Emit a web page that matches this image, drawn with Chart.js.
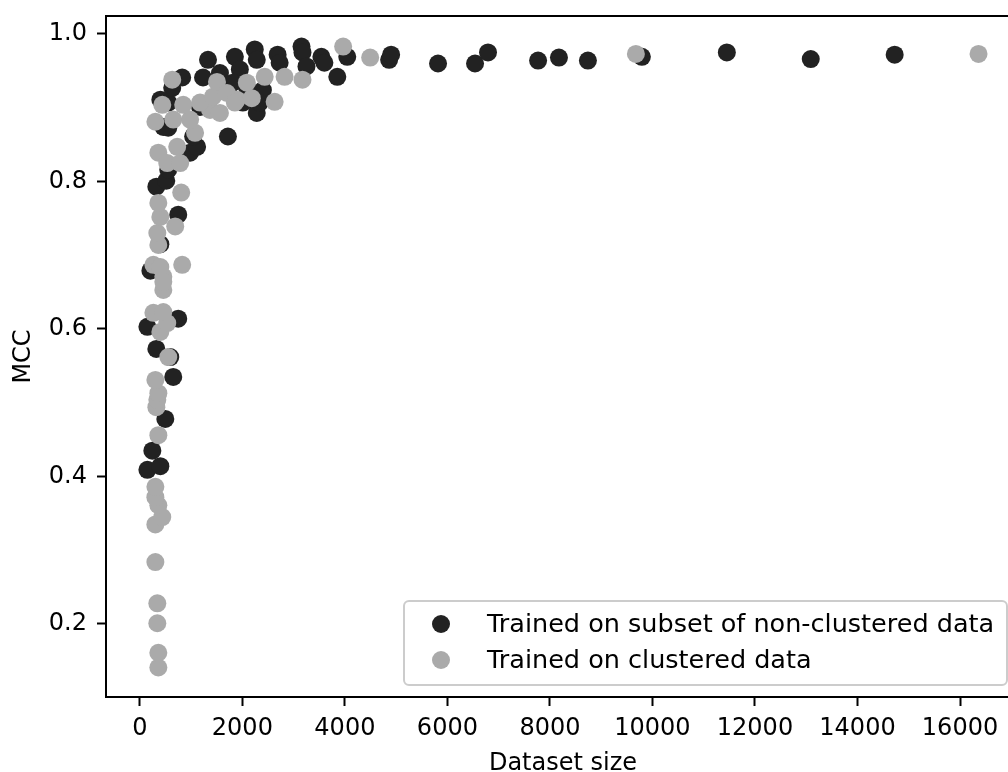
<!DOCTYPE html>
<html>
<head>
<meta charset="utf-8">
<script src="https://cdn.jsdelivr.net/npm/chart.js@4.4.1/dist/chart.umd.min.js"></script>
<style>
html,body{margin:0;padding:0;background:#fff;overflow:hidden;}
#wrap{width:1032px;height:772px;}
</style>
</head>
<body>
<div id="wrap"><canvas id="c" width="1032" height="772"></canvas></div>
<script>
// Dataset size / MCC — trained on subset of non-clustered data
const nonClusteredX = [147,244,400,497,147,322,206,400,322,652,594,749,749,516,555,555,555,632,826,1175,981,1117,1040,1330,1854,1718,1951,2242,2281,2281,2339,2009,2087,1815,1563,1233,400,458,2688,2727,3154,3173,3251,3542,3600,3852,4046,4863,4902,5817,6539,6792,7769,8176,8741,9794,11451,13088,14725,2401];
const nonClusteredY = [0.409,0.435,0.414,0.478,0.603,0.573,0.679,0.715,0.793,0.535,0.562,0.614,0.755,0.801,0.816,0.873,0.907,0.927,0.941,0.901,0.839,0.847,0.861,0.965,0.969,0.861,0.952,0.979,0.965,0.893,0.907,0.907,0.928,0.934,0.947,0.941,0.911,0.874,0.972,0.961,0.983,0.975,0.956,0.969,0.961,0.942,0.969,0.965,0.972,0.960,0.960,0.975,0.964,0.968,0.964,0.969,0.975,0.966,0.972,0.924];
// Trained on clustered data
const clusteredX = [361,361,341,341,303,303,438,361,303,303,361,322,341,361,303,555,400,535,264,458,458,458,264,400,826,361,341,690,400,361,807,361,535,787,729,1078,303,652,981,1369,1563,438,846,1175,1427,1505,1893,2184,2087,2630,2436,2824,3173,3966,4493,9677,16361,632,1699,1854,458];
const clusteredY = [0.141,0.161,0.201,0.228,0.284,0.335,0.345,0.361,0.372,0.386,0.456,0.494,0.504,0.513,0.531,0.562,0.596,0.608,0.622,0.623,0.653,0.671,0.687,0.684,0.687,0.714,0.730,0.739,0.752,0.771,0.785,0.839,0.825,0.825,0.847,0.866,0.881,0.884,0.884,0.897,0.893,0.904,0.904,0.907,0.915,0.935,0.911,0.913,0.934,0.908,0.942,0.942,0.938,0.983,0.968,0.973,0.973,0.938,0.920,0.907,0.664];
const seriesLabels = ["Trained on subset of non-clustered data","Trained on clustered data"];
const xTicks = [0,2000,4000,6000,8000,10000,12000,14000,16000];
const yTicks = [0.2,0.4,0.6,0.8,1.0];

const FONT = "'DejaVu Sans', sans-serif";
const toPts = (xs, ys) => xs.map((x, i) => ({x: x, y: ys[i]}));

const framePlugin = {
  id: 'frame',
  afterDatasetsDraw(chart) {
    const {ctx, chartArea: a} = chart;
    ctx.save();
    ctx.strokeStyle = '#000';
    ctx.lineWidth = 2;
    ctx.beginPath();
    ctx.moveTo(a.left - 1, a.top);
    ctx.lineTo(a.right + 1, a.top);
    ctx.moveTo(a.right, a.top);
    ctx.lineTo(a.right, a.bottom);
    ctx.stroke();
    ctx.restore();
  }
};

const legendPlugin = {
  id: 'mplLegend',
  afterDraw(chart) {
    const {ctx, chartArea: a} = chart;
    const w = 603, h = 84;
    const right = a.right - 13, bottom = a.bottom - 12;
    const left = right - w, top = bottom - h;
    ctx.save();
    ctx.beginPath();
    ctx.roundRect(left, top, w, h, 5);
    ctx.fillStyle = 'rgba(255,255,255,0.8)';
    ctx.fill();
    ctx.strokeStyle = '#cccccc';
    ctx.lineWidth = 2;
    ctx.stroke();
    const rows = [top + 23, top + 59];
    chart.data.datasets.forEach((ds, i) => {
      ctx.beginPath();
      ctx.arc(left + 37, rows[i], 9, 0, Math.PI * 2);
      ctx.fillStyle = ds.backgroundColor;
      ctx.fill();
      ctx.fillStyle = '#000';
      ctx.font = '25.5px ' + FONT;
      ctx.textBaseline = 'middle';
      ctx.textAlign = 'left';
      ctx.fillText(ds.label, left + 83, rows[i] + 1);
    });
    ctx.restore();
  }
};

new Chart(document.getElementById('c'), {
  type: 'scatter',
  data: {
    datasets: [
      {label: seriesLabels[0], data: toPts(nonClusteredX, nonClusteredY), backgroundColor: '#222222', borderWidth: 0, pointRadius: 9, pointHoverRadius: 9, order: 1},
      {label: seriesLabels[1], data: toPts(clusteredX, clusteredY), backgroundColor: '#aaaaaa', borderWidth: 0, pointRadius: 9, pointHoverRadius: 9, order: 0}
    ]
  },
  options: {
    responsive: false,
    animation: false,
    devicePixelRatio: 1,
    layout: {padding: {top: 16, right: 12, left: 0, bottom: 0}},
    plugins: {legend: {display: false}, tooltip: {enabled: false}},
    scales: {
      x: {
        type: 'linear', min: -660, max: 17170,
        afterBuildTicks: s => { s.ticks = xTicks.map(v => ({value: v})); },
        afterFit: s => { s.height = 75; s.paddingLeft = 0; s.paddingRight = 0; },
        ticks: {color: '#000', font: {family: FONT, size: 24}, padding: 8, maxRotation: 0, autoSkip: false,
                callback: v => String(v)},
        grid: {display: true, drawOnChartArea: false, drawTicks: true, tickLength: 9, tickWidth: 2, tickColor: '#000'},
        border: {display: true, color: '#000', width: 2},
        title: {display: true, text: 'Dataset size', color: '#000', font: {family: FONT, size: 24, lineHeight: 0.67}, padding: {top: 0, bottom: 0}}
      },
      y: {
        type: 'linear', min: 0.101, max: 1.0244,
        afterBuildTicks: s => { s.ticks = yTicks.map(v => ({value: v})); },
        afterFit: s => { s.width = 106; s.paddingTop = 0; s.paddingBottom = 0; },
        ticks: {color: '#000', font: {family: FONT, size: 24}, padding: 10, autoSkip: false,
                callback: v => Number(v).toFixed(1)},
        grid: {display: true, drawOnChartArea: false, drawTicks: true, tickLength: 9, tickWidth: 2, tickColor: '#000'},
        border: {display: true, color: '#000', width: 2},
        title: {display: true, text: 'MCC', color: '#000', font: {family: FONT, size: 24, lineHeight: 1}, padding: {top: 12, bottom: 0}}
      }
    }
  },
  plugins: [framePlugin, legendPlugin]
});
</script>
</body>
</html>
